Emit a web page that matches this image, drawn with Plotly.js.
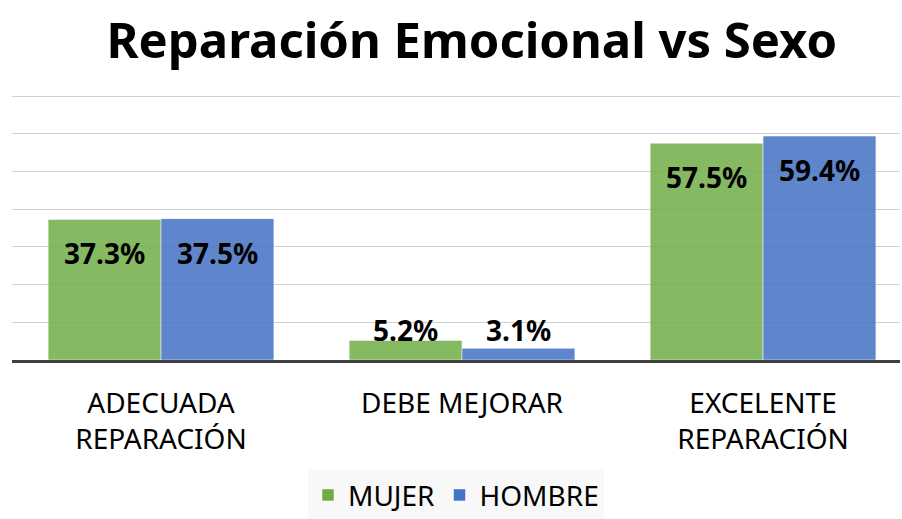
<!DOCTYPE html>
<html>
<head>
<meta charset="utf-8">
<script src="https://cdn.plot.ly/plotly-3.0.1.min.js"></script>
<style>html,body{margin:0;padding:0;background:#fff;}#chart{width:902px;height:519px;}</style>
</head>
<body>
<div id="chart"></div>
<script>
const categories = ["ADECUADA<br>REPARACIÓN", "DEBE MEJORAR", "EXCELENTE<br>REPARACIÓN"];
const mujer = [37.3, 5.2, 57.5];
const hombre = [37.5, 3.1, 59.4];
const seriesNames = ["MUJER", "HOMBRE"];
const FONT = "Noto Sans, Open Sans, sans-serif";

const traces = [
  {type: "bar", name: seriesNames[0], x: categories, y: mujer,
   marker: {color: "#70AD47", opacity: 0.85, line: {color: "rgba(255,255,255,0.5)", width: 1}},
   hoverinfo: "skip"},
  {type: "bar", name: seriesNames[1], x: categories, y: hombre,
   marker: {color: "#4472C4", opacity: 0.85, line: {color: "rgba(255,255,255,0.5)", width: 1}},
   hoverinfo: "skip"}
];

const annotations = [];
[mujer, hombre].forEach((arr, si) => {
  arr.forEach((v, ci) => {
    annotations.push({
      x: ci, xref: "x", y: Math.max(v - 9, 8), yref: "y",
      xshift: si === 0 ? -56.5 : 56.5,
      text: v.toFixed(1) + "%", showarrow: false,
      font: {family: FONT, size: 28, color: "#000", weight: "bold"},
      yanchor: "middle"
    });
  });
});

const layout = {
  width: 902, height: 519,
  margin: {l: 12, r: 2, t: 95, b: 159, autoexpand: false},
  paper_bgcolor: "#fff", plot_bgcolor: "#fff",
  title: {text: "<b>Reparación Emocional vs Sexo</b>", x: 0.523, xanchor: "center", y: 0.922, yanchor: "middle",
          font: {family: FONT, size: 49, color: "#000"}},
  barmode: "group", bargap: 0.25, bargroupgap: 0,
  xaxis: {type: "category", range: [-0.495, 2.455], showgrid: false, showline: true, linecolor: "#404040", linewidth: 3,
          ticks: "outside", ticklen: 16, tickcolor: "rgba(0,0,0,0)", automargin: false,
          tickfont: {family: FONT, size: 28, color: "#000"}, layer: "above traces"},
  yaxis: {range: [0, 70.3], tickvals: [10, 20, 30, 40, 50, 60, 70], showgrid: true, gridcolor: "#d0d0d0", gridwidth: 1,
          showticklabels: false, zeroline: false, layer: "above traces", fixedrange: true, automargin: false},
  legend: {orientation: "h", xref: "paper", x: 0.5, xanchor: "center", yref: "container", y: 0.094, yanchor: "top",
           bgcolor: "#f8f8f8", font: {family: FONT, size: 28, color: "#000"},
           itemwidth: 30, traceorder: "normal"},
  annotations: annotations,
  showlegend: true
};

Plotly.newPlot("chart", traces, layout, {staticPlot: true, displayModeBar: false});
</script>
</body>
</html>
